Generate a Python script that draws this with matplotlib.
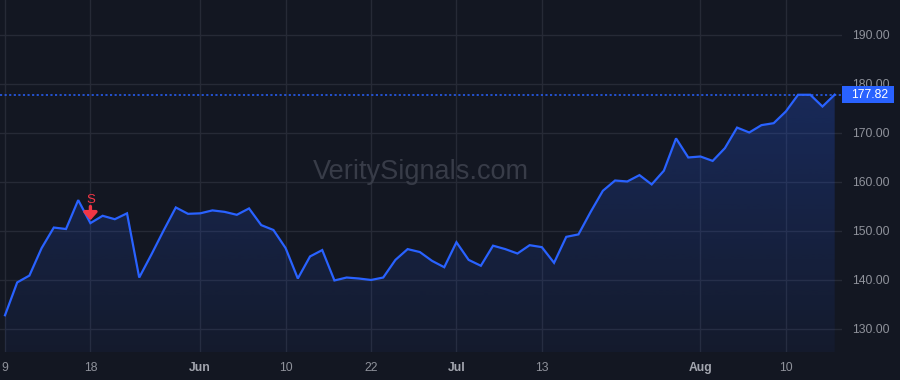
import numpy as np
import matplotlib.pyplot as plt
import matplotlib.transforms as mtransforms
from matplotlib.patches import Rectangle
from matplotlib.colors import LinearSegmentedColormap

# daily closes, 9 May -> 16 Aug (trading days)
closes = [132.8, 139.5, 140.9, 146.5, 150.7, 150.4, 156.3, 151.6, 153.1, 152.4,
          153.6, 140.5, 145.2, 150.1, 154.8, 153.5, 153.6, 154.2, 153.9, 153.3,
          154.6, 151.2, 150.2, 146.5, 140.3, 144.8, 146.1, 139.9, 140.5, 140.3,
          140.0, 140.5, 144.1, 146.3, 145.7, 143.9, 142.6, 147.7, 144.1, 142.9,
          147.0, 146.3, 145.4, 147.1, 146.7, 143.5, 148.8, 149.3, 153.9, 158.2,
          160.3, 160.1, 161.4, 159.5, 162.3, 168.9, 165.0, 165.2, 164.3, 166.9,
          171.1, 170.1, 171.6, 172.0, 174.4, 177.8, 177.8, 175.4, 177.82]
tick_idx = [0, 7, 16, 23, 30, 37, 44, 57, 64]
tick_labels = ['9', '18', 'Jun', '10', '22', 'Jul', '13', 'Aug', '10']
month_labels = ['Jun', 'Jul', 'Aug']
price_ticks = [130, 140, 150, 160, 170, 180, 190]
signal_idx = 7
signal_text = 'S'
last_price = 177.82
watermark = 'VeritySignals.com'

BG = '#131722'
GRID = '#262a36'
BLUE = '#2962ff'
RED = '#f23645'
TXT = '#8f929b'

plt.rcParams['font.family'] = ['Liberation Sans', 'DejaVu Sans']

fig = plt.figure(figsize=(9, 3.8), dpi=100, facecolor=BG)
ax = fig.add_axes([0, 28 / 380, 842 / 900, 352 / 380])
ax.set_facecolor(BG)

x = np.arange(len(closes))
y = np.array(closes)
ymin, ymax = 125.3, 197.14
ax.set_xlim(-0.41, 68.6)
ax.set_ylim(ymin, ymax)

# grid
for t in tick_idx:
    ax.axvline(t, color=GRID, lw=1, zorder=0)
for p in price_ticks:
    ax.axhline(p, color=GRID, lw=1, zorder=0)

# gradient area under the line
poly = ax.fill_between(x, y, ymin, color='none', lw=0)
cmap = LinearSegmentedColormap.from_list(
    'grad', [(41 / 255, 98 / 255, 255 / 255, 0.05), (41 / 255, 98 / 255, 255 / 255, 0.25)])
grad = np.linspace(0, 1, 256).reshape(-1, 1)
im = ax.imshow(grad, cmap=cmap, aspect='auto', origin='lower',
               extent=[x[0], x[-1], ymin, max(y)], zorder=1)
im.set_clip_path(poly.get_paths()[0], transform=ax.transData)

ax.plot(x, y, color=BLUE, lw=1.6, zorder=3, solid_joinstyle='miter')

# last price line
ax.axhline(last_price, color=BLUE, lw=1.1, ls=(0, (1.4, 1.6)), zorder=2)

# signal marker
ax.annotate('', xy=(signal_idx, y[signal_idx]), xytext=(0, 12), textcoords='offset points',
            xycoords='data', zorder=4,
            arrowprops=dict(arrowstyle='-|>,head_width=0.4,head_length=0.45', color=RED, lw=2.4,
                            shrinkA=0, shrinkB=2))
ax.annotate(signal_text, xy=(signal_idx, y[signal_idx]), xytext=(0, 16.5), textcoords='offset points',
            ha='center', va='center', color=RED, fontsize=9.5, zorder=4)

# watermark
ax.text(0.5, 0.511, watermark, transform=ax.transAxes, ha='center', va='center',
        fontsize=19.5, color='#383c48', zorder=1)

# axes styling
for s in ax.spines.values():
    s.set_visible(False)
ax.yaxis.tick_right()
ax.set_yticks(price_ticks)
ax.set_yticklabels([f'{p:.2f}' for p in price_ticks])
ax.tick_params(axis='y', length=0, pad=7.5, labelsize=8.7, labelcolor=TXT)
ax.set_xticks(tick_idx)
ax.set_xticklabels(tick_labels)
ax.tick_params(axis='x', length=0, pad=7.5, labelsize=8.7, labelcolor=TXT)
for lbl in ax.get_xticklabels():
    if lbl.get_text() in month_labels:
        lbl.set_fontweight('bold')
        lbl.set_color('#a3a6af')

# price label box on the right scale
trans = mtransforms.blended_transform_factory(fig.transFigure, ax.transData)
box_h = 17 / 4.9
ax.add_patch(Rectangle((842 / 900, last_price - box_h / 2), 52 / 900, box_h, transform=trans,
                       fc=BLUE, ec='none', clip_on=False, zorder=5))
ax.text(869.5 / 900, last_price, f'{last_price:.2f}', transform=trans, ha='center', va='center',
        color='white', fontsize=8.7, zorder=6, clip_on=False)

fig.savefig('out.png', dpi=100, facecolor=BG)
